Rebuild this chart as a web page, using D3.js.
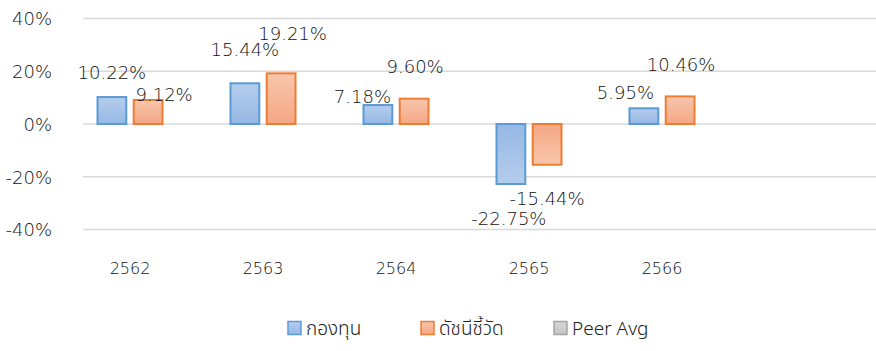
<!DOCTYPE html>
<html>
<head>
<meta charset="utf-8">
<script src="https://cdn.jsdelivr.net/npm/d3@7"></script>
<style>
  html, body { margin: 0; padding: 0; background: #fff; }
  svg { display: block; }
  text { font-family: "DejaVu Sans", "Noto Sans", sans-serif; font-weight: 200; fill: #111; }
  .thai { font-family: "Leelawadee UI", Tahoma, "Noto Sans Thai", "Noto Sans", "DejaVu Sans", sans-serif; font-weight: 300; fill: #222; }
</style>
</head>
<body>
<svg id="chart" width="876" height="351"></svg>
<script>
// Annual returns (%), Buddhist-era years
const years = ["2562", "2563", "2564", "2565", "2566"];
const fundReturns = [10.22, 15.44, 7.18, -22.75, 5.95];
const benchmarkReturns = [9.12, 19.21, 9.60, -15.44, 10.46];
const yTicks = [-40, -20, 0, 20, 40];
const seriesNames = ["กองทุน", "ดัชนีชี้วัด", "Peer Avg"];

// Hand-placed label nudges (dx, dy from the bar's end), one per bar
const fundLabelNudge = [[0, -18], [0, -27], [-15.5, -2], [-2, 41], [-18.5, -9]];
const benchLabelNudge = [[16, 1], [11.5, -33], [1, -26], [0, 40.5], [1, -25.5]];

const svg = d3.select("#chart");
const gridLeft = 83, gridRight = 876;

const y = d3.scaleLinear().domain([-40, 40]).range([229.5, 18.5]);
const x = d3.scaleBand().domain(years).range([63.5, 63.5 + 133 * years.length]).paddingInner(0);
const x1 = d3.scaleBand().domain([0, 1]).range([-33.5, 33.5]).paddingInner(0.15);

// Gradients: darker at the baseline, lighter toward the bar's end
const defs = svg.append("defs");
function grad(id, top, bottom) {
  const g = defs.append("linearGradient").attr("id", id).attr("x1", 0).attr("y1", 0).attr("x2", 0).attr("y2", 1);
  g.append("stop").attr("offset", "0%").attr("stop-color", top);
  g.append("stop").attr("offset", "100%").attr("stop-color", bottom);
}
const blueLight = "#b4cdec", blueDark = "#96b8e4";
const orangeLight = "#f8c6ad", orangeDark = "#f4a784";
grad("bluePos", blueLight, blueDark);
grad("blueNeg", blueDark, blueLight);
grad("orangePos", orangeLight, orangeDark);
grad("orangeNeg", orangeDark, orangeLight);
grad("grayFill", "#d6d6d6", "#c4c4c4");

// Gridlines
svg.append("g").selectAll("line").data(yTicks).join("line")
  .attr("x1", gridLeft).attr("x2", gridRight)
  .attr("y1", d => y(d)).attr("y2", d => y(d))
  .attr("stroke", "#d9d9d9").attr("stroke-width", 1.5);

// Y axis labels
const yAxis = d3.axisLeft(y).tickValues(yTicks).tickFormat(d => d + "%").tickSize(0).tickPadding(0);
const yg = svg.append("g").attr("transform", "translate(52,0)").call(yAxis);
yg.select(".domain").remove();
yg.selectAll("text").attr("font-size", 18).attr("fill", "#111")
  .style("font-family", '"DejaVu Sans", sans-serif').style("font-weight", 200).attr("dy", "0.36em");

// X axis labels
const xAxis = d3.axisBottom(x).tickSize(0).tickPadding(0);
const xg = svg.append("g").attr("transform", "translate(0,262)").call(xAxis);
xg.select(".domain").remove();
xg.selectAll("text").attr("font-size", 16).attr("fill", "#111")
  .style("font-family", '"DejaVu Sans", sans-serif').style("font-weight", 200).attr("dy", "0.72em");

// Bars
const series = [
  { values: fundReturns, stroke: "#5b9bd5", pos: "bluePos", neg: "blueNeg", nudge: fundLabelNudge },
  { values: benchmarkReturns, stroke: "#ed7d31", pos: "orangePos", neg: "orangeNeg", nudge: benchLabelNudge }
];
const bw = x1.bandwidth() - 2;
series.forEach((s, si) => {
  const cx = i => x(years[i]) + x.bandwidth() / 2 + x1(si) + x1.bandwidth() / 2;
  svg.append("g").selectAll("rect").data(s.values).join("rect")
    .attr("x", (d, i) => cx(i) - bw / 2)
    .attr("y", d => Math.min(y(d), y(0)))
    .attr("width", bw)
    .attr("height", d => Math.abs(y(d) - y(0)))
    .attr("fill", d => d >= 0 ? `url(#${s.pos})` : `url(#${s.neg})`)
    .attr("stroke", s.stroke).attr("stroke-width", 2);
  svg.append("g").selectAll("text").data(s.values).join("text")
    .attr("x", (d, i) => cx(i) + s.nudge[i][0])
    .attr("y", (d, i) => y(d) + s.nudge[i][1])
    .attr("text-anchor", "middle")
    .attr("font-size", 18)
    .text(d => d.toFixed(2) + "%");
});

// Legend
const legendItems = [
  { name: seriesNames[0], fill: "url(#bluePos)", stroke: "#5b9bd5", x: 288 },
  { name: seriesNames[1], fill: "url(#orangePos)", stroke: "#ed7d31", x: 421 },
  { name: seriesNames[2], fill: "url(#grayFill)", stroke: "#a5a5a5", x: 554 }
];
const legend = svg.append("g").attr("transform", "translate(0,328)");
legendItems.forEach(it => {
  legend.append("rect").attr("x", it.x).attr("y", -6.5).attr("width", 13).attr("height", 13)
    .attr("fill", it.fill).attr("stroke", it.stroke).attr("stroke-width", 1.5);
  legend.append("text").attr("class", "thai").attr("x", it.x + 18).attr("y", 0)
    .attr("dy", "0.35em").attr("font-size", 19).text(it.name);
});
</script>
</body>
</html>
